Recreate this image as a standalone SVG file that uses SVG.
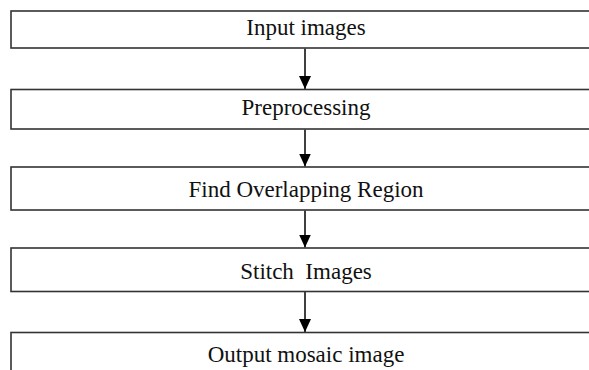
<svg xmlns="http://www.w3.org/2000/svg" width="589" height="370" viewBox="0 0 589 370">
  <style>
    .box { fill: #ffffff; stroke: #333333; stroke-width: 1.6; }
    .lbl { font-family: "Liberation Serif", "Times New Roman", serif; font-size: 23px; fill: #111111; text-anchor: middle; white-space: pre; }
    .conn { stroke: #000000; stroke-width: 1.5; fill: none; marker-end: url(#head); }
  </style>
  <defs>
    <marker id="head" markerWidth="13" markerHeight="12" refX="13" refY="6" orient="auto" markerUnits="userSpaceOnUse" viewBox="0 0 13 12">
      <path d="M0,0 L13,6 L0,12 Z" fill="#000000"/>
    </marker>
  </defs>
  <rect width="589" height="370" fill="#ffffff"/>
  <g id="connectors">
    <line class="conn" x1="305" y1="48.5" x2="305" y2="89"/>
    <line class="conn" x1="305" y1="129.5" x2="305" y2="166.5"/>
    <line class="conn" x1="305" y1="210.5" x2="305" y2="247.5"/>
    <line class="conn" x1="305" y1="292" x2="305" y2="332"/>
  </g>
  <g id="node-input">
    <rect class="box" x="11" y="11" width="600" height="37"/>
    <text class="lbl" x="306" y="35">Input images</text>
  </g>
  <g id="node-preprocessing">
    <rect class="box" x="11" y="89.5" width="600" height="39.5"/>
    <text class="lbl" x="306" y="115">Preprocessing</text>
  </g>
  <g id="node-overlap">
    <rect class="box" x="11" y="167" width="600" height="43"/>
    <text class="lbl" x="306" y="197">Find Overlapping Region</text>
  </g>
  <g id="node-stitch">
    <rect class="box" x="11" y="248" width="600" height="43.5"/>
    <text class="lbl" x="306" y="279" xml:space="preserve">Stitch  Images</text>
  </g>
  <g id="node-output">
    <rect class="box" x="11" y="332.5" width="600" height="60"/>
    <text class="lbl" x="306" y="362">Output mosaic image</text>
  </g>
</svg>
